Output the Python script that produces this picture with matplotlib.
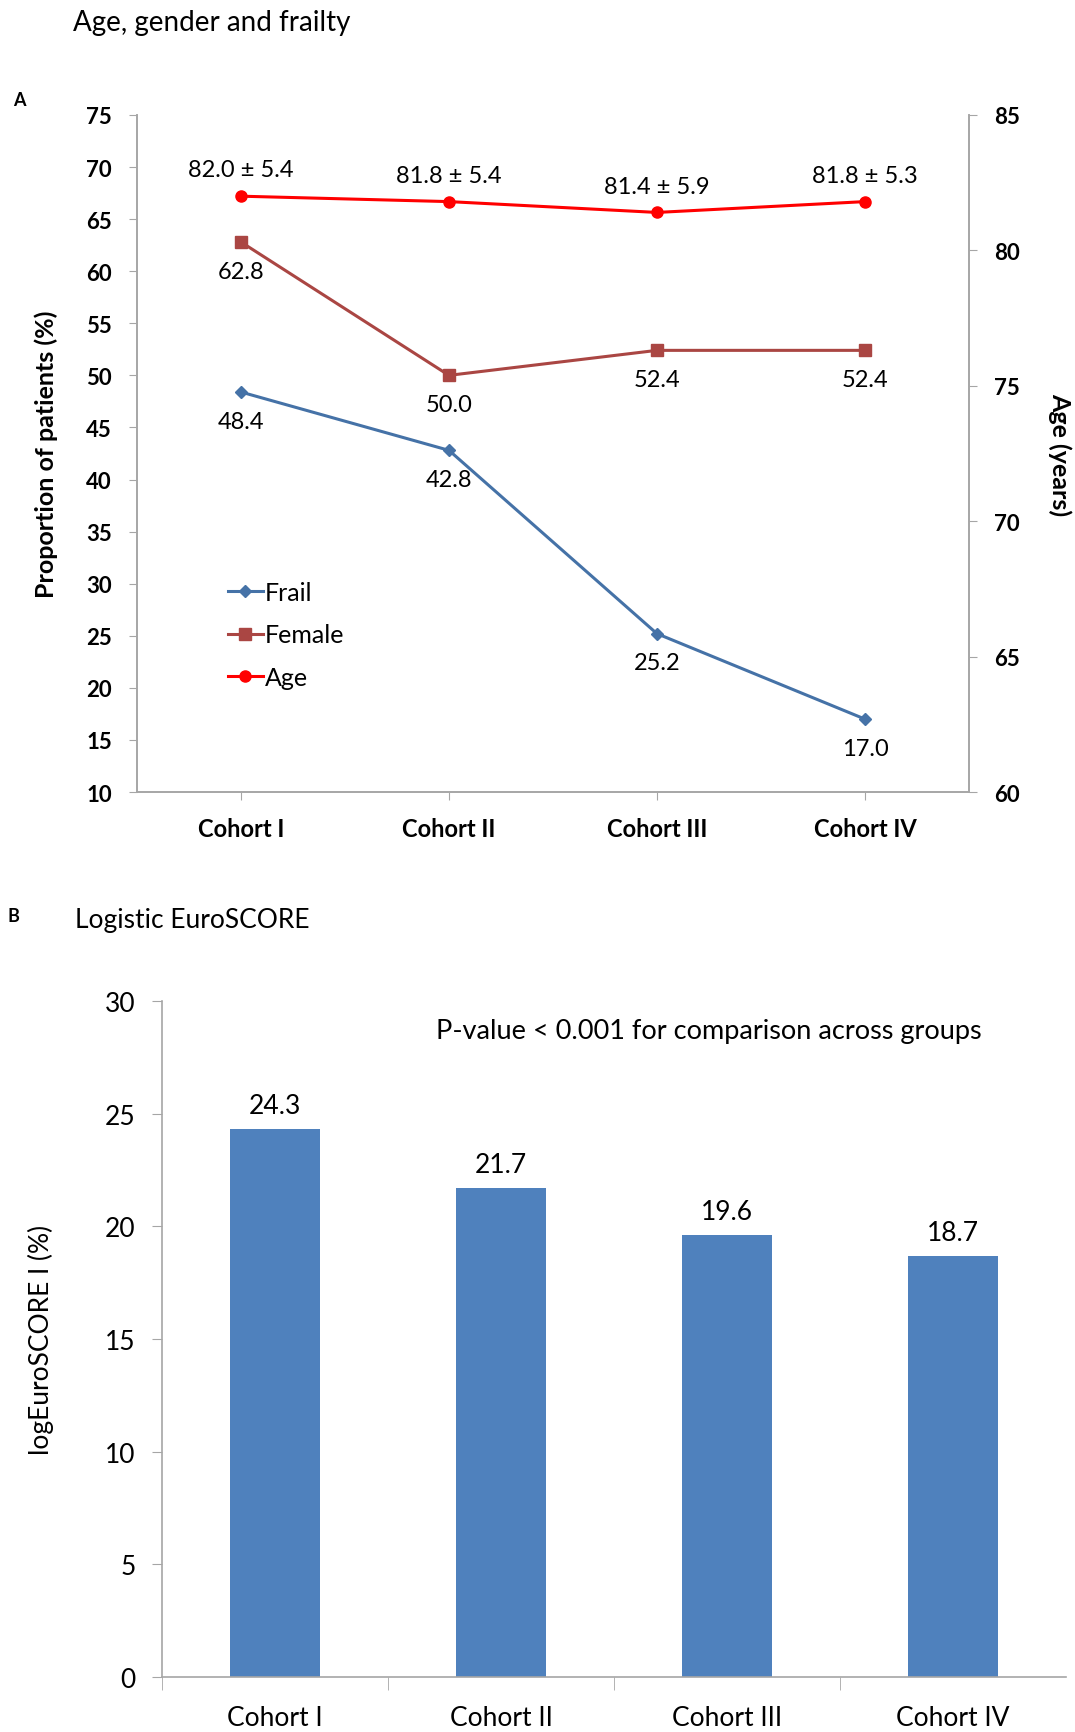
import matplotlib
matplotlib.use("Agg")
import matplotlib.pyplot as plt
from matplotlib.lines import Line2D

plt.rcParams['font.family'] = ['Lato', 'DejaVu Sans']

cohorts = ["Cohort I", "Cohort II", "Cohort III", "Cohort IV"]
frail = [48.4, 42.8, 25.2, 17.0]
female = [62.8, 50.0, 52.4, 52.4]
age_mean = [82.0, 81.8, 81.4, 81.8]
age_sd = [5.4, 5.4, 5.9, 5.3]
euroscore = [24.3, 21.7, 19.6, 18.7]

BLUE = "#4572A7"
DARKRED = "#AA4643"
RED = "#FF0000"
BAR = "#4F81BD"
SPINE = "#A6A6A6"

fig = plt.figure(figsize=(10.75, 17.33), dpi=100)

# ---- panel A: frailty, female and age ----
ax1 = fig.add_axes([0.1274, 0.5424, 0.774, 0.3907])
x = range(len(cohorts))
ax1.plot(x, frail, color=BLUE, lw=2.2, marker="D", ms=6, label="Frail")
ax1.plot(x, female, color=DARKRED, lw=2.2, marker="s", ms=8, label="Female")
ax1.set_ylim(10, 75)
ax1.set_yticks(range(10, 80, 5))
ax1.set_xlim(-0.5, 3.5)
ax1.set_xticks(list(x))
ax1.set_xticklabels(cohorts, fontweight="bold", fontsize=17)
ax1.set_ylabel("Proportion of patients (%)", fontweight="bold", fontsize=18, labelpad=20)
for lab in ax1.get_yticklabels():
    lab.set_fontweight("bold")
ax1.tick_params(axis="y", labelsize=16, length=6, color=SPINE, pad=12)
ax1.tick_params(axis="x", length=6, color=SPINE, pad=12)

ax2 = ax1.twinx()
ax2.plot(x, age_mean, color=RED, lw=2.2, marker="o", ms=8, label="Age")
ax2.set_ylim(60, 85)
ax2.set_yticks(range(60, 90, 5))
for lab in ax2.get_yticklabels():
    lab.set_fontweight("bold")
ax2.tick_params(axis="y", labelsize=16, length=6, color=SPINE, pad=12)
ax2.set_ylabel("Age (years)", fontweight="bold", fontsize=18, rotation=270, labelpad=37)

for a in (ax1, ax2):
    a.spines["top"].set_visible(False)
    for s in ("left", "right", "bottom"):
        a.spines[s].set_color(SPINE)
        a.spines[s].set_linewidth(1.2)

for i, v in enumerate(frail):
    ax1.annotate(f"{v:.1f}", (i, v), xytext=(0, -21), textcoords="offset points",
                 ha="center", va="center", fontsize=17)
for i, v in enumerate(female):
    ax1.annotate(f"{v:.1f}", (i, v), xytext=(0, -21), textcoords="offset points",
                 ha="center", va="center", fontsize=17)
for i, (m, sd) in enumerate(zip(age_mean, age_sd)):
    ax2.annotate(f"{m:.1f} ± {sd:.1f}", (i, m), xytext=(0, 19), textcoords="offset points",
                 ha="center", va="center", fontsize=17)

handles = [Line2D([], [], color=BLUE, lw=2.2, marker="D", ms=6),
           Line2D([], [], color=DARKRED, lw=2.2, marker="s", ms=8),
           Line2D([], [], color=RED, lw=2.2, marker="o", ms=8)]
ax2.legend(handles, ["Frail", "Female", "Age"], loc="upper left",
           bbox_to_anchor=(0.082, 0.345), frameon=False, fontsize=18,
           handlelength=1.4, handletextpad=0.1, labelspacing=0.78)

fig.text(0.068, 0.987, "Age, gender and frailty", fontsize=20, va="center", ha="left")
fig.text(0.012, 0.942, "A", fontsize=13, fontweight="bold", va="center")

# ---- panel B: logistic EuroSCORE ----
ax3 = fig.add_axes([0.1507, 0.0317, 0.8409, 0.3901])
ax3.bar(range(len(cohorts)), euroscore, width=0.4, color=BAR)
ax3.set_xlim(-0.5, 3.5)
ax3.set_ylim(0, 30)
ax3.set_yticks(range(0, 35, 5))
ax3.set_xticks(range(len(cohorts)))
ax3.set_xticklabels(cohorts, fontsize=19)
ax3.set_xticks([-0.5, 0.5, 1.5, 2.5], minor=True)
ax3.tick_params(axis="x", which="major", length=0, pad=20)
ax3.tick_params(axis="x", which="minor", length=9, color=SPINE)
ax3.tick_params(axis="y", labelsize=19, length=7, color=SPINE, pad=12)
ax3.set_ylabel("logEuroSCORE I (%)", fontsize=19, labelpad=37)
for s in ("top", "right"):
    ax3.spines[s].set_visible(False)
for s in ("left", "bottom"):
    ax3.spines[s].set_color(SPINE)
    ax3.spines[s].set_linewidth(1.2)

for i, v in enumerate(euroscore):
    ax3.annotate(f"{v:.1f}", (i, v), xytext=(0, 17), textcoords="offset points",
                 ha="center", va="center", fontsize=19)

ax3.text(0.303, 0.957, "P-value < 0.001 for comparison across groups",
         transform=ax3.transAxes, fontsize=19.5, va="center", ha="left")

fig.text(0.007, 0.471, "B", fontsize=13, fontweight="bold", va="center")
fig.text(0.07, 0.469, "Logistic EuroSCORE", fontsize=19, va="center", ha="left")

fig.savefig("out.png", dpi=100)
